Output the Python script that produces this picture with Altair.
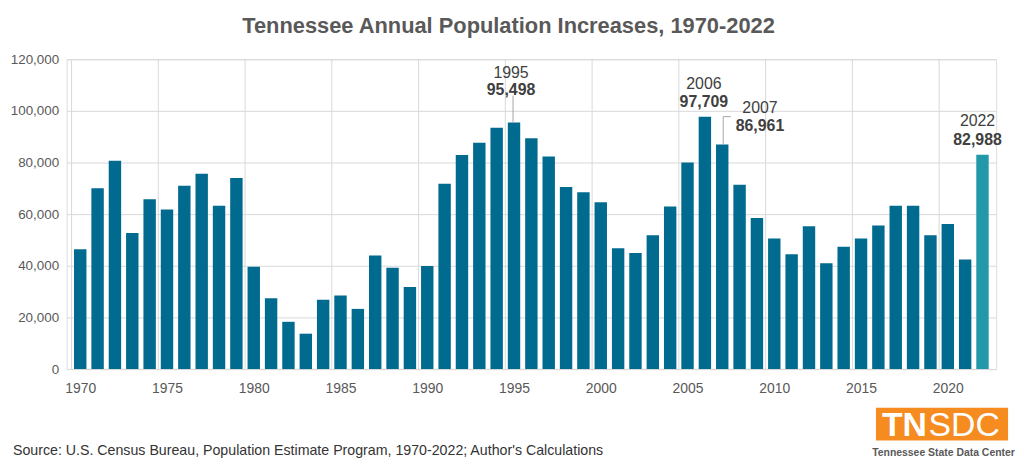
import altair as alt
import pandas as pd

# ---- data ----
years = list(range(1970, 2023))
increases = [
    46400, 70000, 80700, 52700, 65800, 61800, 71000, 75600, 63200, 74000,
    39600, 27400, 18300, 13700, 26800, 28500, 23300, 44000, 39200, 31800,
    39900, 71800, 82900, 87600, 93500, 95498, 89400, 82300, 70500, 68500,
    64600, 46800, 44900, 51800, 63000, 80000, 97709, 86961, 71400, 58500,
    50600, 44500, 55300, 41000, 47400, 50600, 55600, 63200, 63200, 51800,
    56200, 42400, 82988,
]
grid_years = [1970, 1975, 1980, 1985, 1990, 1995, 2000, 2005, 2010, 2015, 2020]
y_ticks = [0, 20000, 40000, 60000, 80000, 100000, 120000]
annot_years = [1995, 2006, 2007, 2022]

title_text = "Tennessee Annual Population Increases, 1970-2022"
source_text = "Source: U.S. Census Bureau, Population Estimate Program, 1970-2022; Author's Calculations"

df = pd.DataFrame({"year": years, "value": increases})
grid_df = pd.DataFrame({"year": grid_years})

W, H = 936, 312
FONT = "Liberation Sans"
BAR = "#006B8F"
HIGHLIGHT = "#2298A8"
GRID = "#D9D9D9"
LABEL = "#595959"
ANNOT = "#404040"

xscale = alt.Scale(domain=[1969.5, 2022.5], nice=False, zero=False)
yscale = alt.Scale(domain=[0, 120000], nice=False)

xaxis = alt.Axis(values=grid_years, format="d", ticks=False, grid=False,
                 domainColor=GRID, domainWidth=1, labelFont=FONT,
                 labelFontSize=14, labelColor=LABEL, labelPadding=13)

base = alt.Chart(df)

grid_rules = alt.Chart(grid_df).transform_calculate(
    edge="datum.year - 0.5"
).mark_rule(color=GRID, strokeWidth=1).encode(
    x=alt.X("edge:Q", scale=xscale, title=None, axis=xaxis),
    y=alt.value(0),
    y2=alt.value(H),
)

bars = base.mark_bar(size=12.5).encode(
    x=alt.X("year:Q", scale=xscale, title=None, axis=xaxis),
    y=alt.Y("value:Q", scale=yscale, title=None,
            axis=alt.Axis(values=y_ticks, format=",d", ticks=False, domain=False,
                          grid=True, gridColor=GRID, gridWidth=1, labelFont=FONT,
                          labelFontSize=13.5, labelColor=LABEL, labelPadding=8)),
    color=alt.condition(alt.datum.year == 2022, alt.value(HIGHLIGHT), alt.value(BAR)),
)

# per-annotation label offsets (px)
offsets = {
    1995: dict(dx=-3, dy_year=-50, dy_val=-33),
    2006: dict(dx=-1, dy_year=-33, dy_val=-15),
    2007: dict(dx=38, dy_year=-37, dy_val=-19),
    2022: dict(dx=-5, dy_year=-34, dy_val=-15),
}

layers = [grid_rules, bars]
for yr in annot_years:
    o = offsets[yr]
    sub = base.transform_filter(alt.datum.year == yr)
    layers.append(sub.mark_text(font=FONT, fontSize=16, color=ANNOT, baseline="middle",
                                dx=o["dx"], dy=o["dy_year"]).encode(
        x=alt.X("year:Q", scale=xscale, title=None, axis=xaxis),
        y=alt.Y("value:Q", scale=yscale),
        text=alt.Text("year:Q", format="d")))
    layers.append(sub.mark_text(font=FONT, fontSize=16, fontWeight="bold", color=ANNOT,
                                baseline="middle", dx=o["dx"], dy=o["dy_val"]).encode(
        x=alt.X("year:Q", scale=xscale, title=None, axis=xaxis),
        y=alt.Y("value:Q", scale=yscale),
        text=alt.Text("value:Q", format=",d")))

LEADER = "#A6A6A6"
# 1995 leader line
layers.append(base.transform_filter(alt.datum.year == 1995).transform_calculate(
    top="datum.value + 10400").mark_rule(color=LEADER, strokeWidth=1, xOffset=-1).encode(
    x=alt.X("year:Q", scale=xscale, title=None, axis=xaxis),
    y=alt.Y("value:Q", scale=yscale), y2="top:Q"))
# 2007 elbow leader
layers.append(base.transform_filter(alt.datum.year == 2007).transform_calculate(
    top="datum.value + 10800").mark_rule(color=LEADER, strokeWidth=1, xOffset=1).encode(
    x=alt.X("year:Q", scale=xscale, title=None, axis=xaxis),
    y=alt.Y("value:Q", scale=yscale), y2="top:Q"))
layers.append(base.transform_filter(alt.datum.year == 2007).transform_calculate(
    top="datum.value + 10800", right="datum.year + 0.5").mark_rule(
    color=LEADER, strokeWidth=1, xOffset=1).encode(
    x=alt.X("year:Q", scale=xscale, title=None, axis=xaxis), x2="right:Q",
    y=alt.Y("top:Q", scale=yscale)))

# title, source, logo (decorations)
deco = alt.Chart(pd.DataFrame({"t": [0]}))
layers.append(deco.mark_text(text=title_text, font=FONT, fontSize=22, fontWeight="bold",
                             color=LABEL, align="center", baseline="middle").encode(
    x=alt.value(445), y=alt.value(-33)))
layers.append(deco.mark_text(text=source_text, font=FONT, fontSize=14.3, color="#333333",
                             align="left", baseline="middle").encode(
    x=alt.value(-54), y=alt.value(395)))
layers.append(deco.mark_rect(color="#F68B1F").encode(
    x=alt.value(815), x2=alt.value(948), y=alt.value(351), y2=alt.value(384)))
layers.append(deco.mark_text(text="TN", font=FONT, fontSize=34, fontWeight="bold",
                             color="white", align="left", baseline="alphabetic").encode(
    x=alt.value(821), y=alt.value(379)))
layers.append(deco.mark_text(text="SDC", font=FONT, fontSize=34, color="white",
                             align="left", baseline="alphabetic").encode(
    x=alt.value(868), y=alt.value(379)))
layers.append(deco.mark_text(text="Tennessee State Data Center", font=FONT, fontSize=10.5,
                             fontWeight="bold", color=LABEL, align="center",
                             baseline="middle").encode(
    x=alt.value(883), y=alt.value(397)))

chart = alt.layer(*layers).properties(
    width=W, height=H,
    autosize=alt.AutoSizeParams(type="none"),
    padding={"left": 59, "top": 50, "right": 20, "bottom": 89},
).configure_view(stroke=None).configure(background="white")

chart.save("out.html", embed_options={"renderer": "svg", "actions": False})
